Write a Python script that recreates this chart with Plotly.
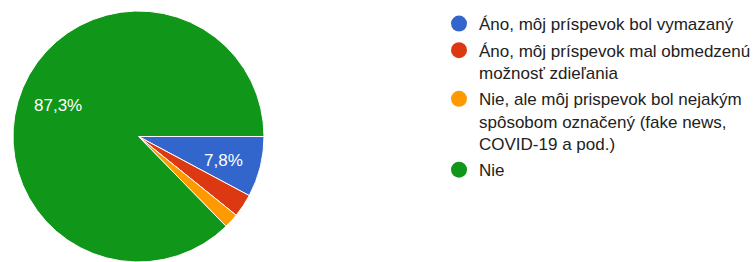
import math
import plotly.graph_objects as go

labels = [
    "Áno, môj príspevok bol vymazaný",
    "Áno, môj príspevok mal obmedzenú<br>možnosť zdieľania",
    "Nie, ale môj prispevok bol nejakým<br>spôsobom označený (fake news,<br>COVID-19 a pod.)",
    "Nie",
]
values = [7.8, 3.0, 1.9, 87.3]
colors = ["#3366cc", "#dc3912", "#ff9900", "#109618"]

W, H = 753, 262
FONT = "Liberation Sans, Arial, sans-serif"
texts = [(f"{v:.1f}%".replace(".", ",") if v > 5 else "") for v in values]

# pie placement (pixels)
PX0, PX1, PTOP = 13, 264, 11
dx0, dx1 = PX0 / W, PX1 / W
dy0, dy1 = 0, 1 - PTOP / H
R = min(PX1 - PX0, H - PTOP) / 2
CX, CY = (PX0 + PX1) / 2, PTOP + R

fig = go.Figure()
fig.add_trace(go.Pie(
    labels=labels, values=values, sort=False, direction="clockwise", rotation=90,
    marker=dict(colors=colors, line=dict(color="white", width=1)),
    textinfo="none", showlegend=False, hoverinfo="label+percent",
    domain=dict(x=[dx0, dx1], y=[dy0, dy1]),
))

# percentage labels placed at the middle angle of each slice
total = sum(values)
cum = 0
for v, t in zip(values, texts):
    mid = (cum + v / 2) / total * 2 * math.pi  # clockwise from 3 o'clock
    cum += v
    if not t:
        continue
    px = CX + 0.7 * R * math.cos(mid)
    py = CY + 0.7 * R * math.sin(mid)
    fig.add_annotation(x=px / W, y=1 - py / H, xref="paper", yref="paper",
                       text=t, showarrow=False, xanchor="center", yanchor="middle",
                       yshift=-3,
                       font=dict(color="white", size=17, family=FONT))

for i, (lab, col) in enumerate(zip(labels, colors)):
    fig.add_trace(go.Scatter(
        x=[None], y=[None], mode="markers", name=lab, legendgroup=f"g{i}",
        marker=dict(symbol="circle", size=16, color=col),
    ))

fig.update_layout(
    width=W, height=H, margin=dict(l=0, r=0, t=0, b=0, autoexpand=False),
    paper_bgcolor="white", plot_bgcolor="white",
    xaxis=dict(visible=False), yaxis=dict(visible=False),
    legend=dict(x=439 / W, y=1 - 6 / H, xanchor="left", yanchor="top", valign="top",
                font=dict(size=17, color="#222222", family=FONT),
                tracegroupgap=1.5, bgcolor="rgba(0,0,0,0)"),
    font=dict(family=FONT),
)
fig.write_html("out.html", config={"displayModeBar": False},
               post_script="document.body.style.margin='0';document.body.style.overflow='hidden';")
